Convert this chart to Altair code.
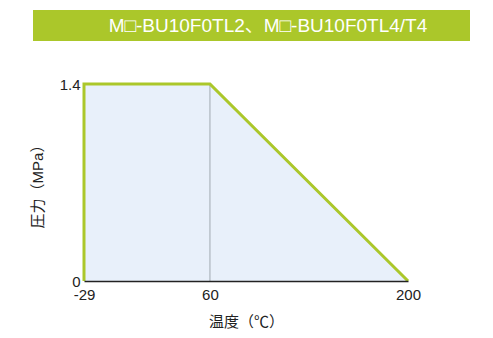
import altair as alt
import pandas as pd

# data
line_temp = [-29, -29, 60, 200]
line_press = [0, 1.4, 1.4, 0]
area_temp = [-29, 60, 200]
area_press = [1.4, 1.4, 0]
x_ticks = [-29, 60, 200]
y_ticks = [0, 1.4]
mid_temp = [60]
mid_press = [1.4]
title_text = "M□-BU10F0TL2、M□-BU10F0TL4/T4"

FONT = "Liberation Sans, Noto Sans CJK JP, sans-serif"
GREEN = "#abc72a"

line_df = pd.DataFrame({"t": line_temp, "p": line_press, "o": list(range(len(line_temp)))})
area_df = pd.DataFrame({"t": area_temp, "p": area_press})
mid_df = pd.DataFrame({"t": mid_temp, "p": mid_press, "p0": [0]})

xs = alt.Scale(domain=[-29, 200], nice=False, zero=False)
ys = alt.Scale(domain=[0, 1.4], nice=False)

xax = alt.Axis(values=x_ticks, title="温度（℃）", grid=False, ticks=False, labelPadding=6,
               labelFlush=False, labelExpr="'' + datum.value",
               domainColor="#222222", domainWidth=1.5, titlePadding=12, zindex=1)
yax = alt.Axis(values=y_ticks, title="圧力（MPa）", grid=False, ticks=False, domain=False, labelPadding=4,
               labelFlush=False,
               labelExpr="datum.value == 0 ? '0' : format(datum.value, '.1f')",
               titlePadding=14)

area = alt.Chart(area_df).mark_area(color="#e8f0fa", opacity=1).encode(
    x=alt.X("t:Q", scale=xs, axis=xax),
    y=alt.Y("p:Q", scale=ys, axis=yax),
)

mid = alt.Chart(mid_df).mark_rule(color="#b9c1c9", strokeWidth=1.5).encode(
    x=alt.X("t:Q", scale=xs, axis=xax), y=alt.Y("p:Q", scale=ys, axis=yax), y2="p0:Q"
)

line = alt.Chart(line_df).mark_line(color=GREEN, strokeWidth=3, strokeJoin="miter").encode(
    x=alt.X("t:Q", scale=xs, axis=xax), y=alt.Y("p:Q", scale=ys, axis=yax), order="o:Q"
)

banner = alt.Chart(pd.DataFrame({"a": [0]})).mark_rect(color=GREEN).encode(
    x=alt.value(-51), x2=alt.value(386), y=alt.value(-74), y2=alt.value(-43)
)
banner_text = alt.Chart(pd.DataFrame({"s": [title_text]})).mark_text(
    color="white", fontSize=19, font=FONT, align="center", baseline="middle"
).encode(text="s:N", x=alt.value(184), y=alt.value(-58))

chart = alt.layer(area, mid, line, banner, banner_text).properties(
    width=324, height=197,
    autosize=alt.AutoSizeParams(type="none"),
    padding={"left": 76, "top": 76, "right": 77, "bottom": 49},
).configure_view(stroke=None).configure_axis(
    labelFont=FONT, titleFont=FONT, labelFontSize=15, titleFontSize=15,
    labelColor="#222222", titleColor="#222222", titleFontWeight="normal"
)

chart.save("out.html", embed_options={"renderer": "svg", "actions": False})
